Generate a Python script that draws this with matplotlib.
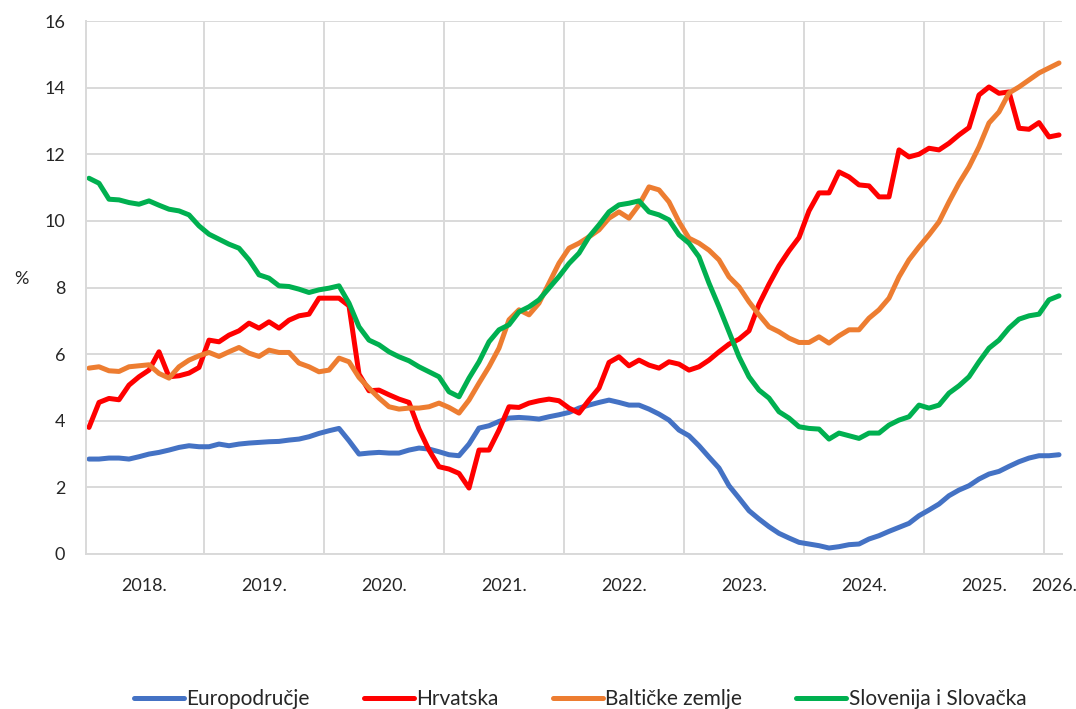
import numpy as np
import matplotlib
matplotlib.use("Agg")
import matplotlib.pyplot as plt

plt.rcParams['font.family'] = ['Lato', 'DejaVu Sans']

# monthly series, Jan 2018 - Feb 2026 (%)
euro_area = [2.85, 2.85, 2.88, 2.88, 2.85, 2.92, 3.0, 3.05, 3.12, 3.2, 3.25, 3.22,
             3.22, 3.3, 3.25, 3.3, 3.33, 3.35, 3.37, 3.38, 3.42, 3.45, 3.52, 3.62,
             3.7, 3.77, 3.4, 3.0, 3.03, 3.05, 3.03, 3.03, 3.12, 3.18, 3.15, 3.07,
             2.98, 2.95, 3.3, 3.78, 3.85, 3.98, 4.08, 4.1, 4.08, 4.05, 4.12, 4.18,
             4.25, 4.38, 4.47, 4.55, 4.62, 4.55, 4.47, 4.47, 4.35, 4.2, 4.02, 3.72,
             3.55, 3.25, 2.91, 2.58, 2.05, 1.68, 1.3, 1.05, 0.82, 0.62, 0.48, 0.35,
             0.3, 0.25, 0.18, 0.22, 0.28, 0.3, 0.45, 0.55, 0.68, 0.8, 0.92, 1.15,
             1.32, 1.5, 1.75, 1.92, 2.05, 2.25, 2.4, 2.48, 2.63, 2.77, 2.88, 2.95,
             2.95, 2.98]
croatia = [3.8, 4.55, 4.67, 4.63, 5.07, 5.32, 5.52, 6.07, 5.32, 5.35, 5.43, 5.6,
           6.42, 6.37, 6.57, 6.7, 6.93, 6.78, 6.97, 6.78, 7.02, 7.15, 7.2, 7.68,
           7.68, 7.68, 7.45, 5.4, 4.9, 4.92, 4.78, 4.65, 4.55, 3.75, 3.12, 2.62,
           2.55, 2.42, 1.98, 3.12, 3.12, 3.72, 4.42, 4.4, 4.53, 4.6, 4.65, 4.6,
           4.38, 4.23, 4.62, 4.98, 5.75, 5.92, 5.65, 5.82, 5.67, 5.58, 5.77, 5.7,
           5.52, 5.62, 5.82, 6.07, 6.3, 6.45, 6.7, 7.5, 8.1, 8.65, 9.1, 9.5,
           10.3, 10.84, 10.84, 11.47, 11.32, 11.08, 11.05, 10.72, 10.72, 12.13, 11.92, 12.0,
           12.18, 12.13, 12.33, 12.58, 12.8, 13.78, 14.02, 13.83, 13.87, 12.78, 12.75, 12.95,
           12.52, 12.58]
baltics = [5.58, 5.62, 5.5, 5.48, 5.62, 5.65, 5.68, 5.42, 5.28, 5.62, 5.82, 5.95,
           6.05, 5.93, 6.07, 6.2, 6.03, 5.93, 6.12, 6.05, 6.05, 5.73, 5.62, 5.47,
           5.52, 5.88, 5.77, 5.3, 4.98, 4.68, 4.42, 4.35, 4.38, 4.38, 4.42, 4.53,
           4.4, 4.23, 4.62, 5.13, 5.62, 6.18, 7.03, 7.33, 7.18, 7.53, 8.13, 8.73,
           9.18, 9.33, 9.52, 9.73, 10.08, 10.27, 10.08, 10.48, 11.02, 10.93, 10.57, 9.97,
           9.48, 9.33, 9.12, 8.83, 8.32, 8.02, 7.57, 7.18, 6.82, 6.67, 6.48, 6.35,
           6.35, 6.52, 6.33, 6.55, 6.73, 6.73, 7.08, 7.33, 7.68, 8.32, 8.83, 9.22,
           9.58, 9.97, 10.57, 11.13, 11.62, 12.22, 12.94, 13.27, 13.84, 14.02, 14.23, 14.44,
           14.59, 14.74]
slo_svk = [11.28, 11.13, 10.65, 10.63, 10.55, 10.5, 10.6, 10.47, 10.35, 10.3, 10.18, 9.85,
           9.6, 9.45, 9.3, 9.18, 8.83, 8.38, 8.28, 8.05, 8.03, 7.95, 7.85, 7.93,
           7.98, 8.05, 7.53, 6.82, 6.42, 6.28, 6.07, 5.92, 5.8, 5.62, 5.47, 5.32,
           4.87, 4.72, 5.28, 5.77, 6.37, 6.73, 6.88, 7.27, 7.42, 7.63, 7.98, 8.33,
           8.72, 9.03, 9.52, 9.88, 10.27, 10.48, 10.53, 10.6, 10.27, 10.18, 10.03, 9.58,
           9.33, 8.92, 8.13, 7.42, 6.67, 5.92, 5.32, 4.92, 4.68, 4.27, 4.08, 3.82,
           3.77, 3.75, 3.45, 3.63, 3.55, 3.47, 3.63, 3.63, 3.87, 4.02, 4.12, 4.47,
           4.38, 4.47, 4.83, 5.05, 5.32, 5.77, 6.18, 6.42, 6.78, 7.05, 7.15, 7.2,
           7.63, 7.75]

series_names = ['Europodručje', 'Hrvatska', 'Baltičke zemlje', 'Slovenija i Slovačka']
series_colors = ['#4472C4', '#FF0000', '#ED7D31', '#00B050']
year_labels = ['2018.', '2019.', '2020.', '2021.', '2022.', '2023.', '2024.', '2025.', '2026.']

months = np.arange(len(euro_area))
text_col = '#262626'
grid_col = '#D9D9D9'

fig = plt.figure(figsize=(10.76, 7.09), dpi=100)
ax = fig.add_axes([86/1076, 1 - 554/709, 976/1076, 533/709])

for vals, name, col in zip([euro_area, croatia, baltics, slo_svk], series_names, series_colors):
    ax.plot(months, vals, color=col, lw=3.6, label=name, solid_capstyle='round', solid_joinstyle='round')

ax.set_xlim(-0.3, len(months) - 0.7)
ax.set_ylim(0, 16)
ax.set_yticks(np.arange(0, 17, 2))

# year boundaries as gridlines, year names centred between them
ax.set_xticks(np.arange(11.5, len(months), 12))
ax.set_xticks([5.5 + 12 * k for k in range(8)] + [96.5], minor=True)
ax.set_xticklabels([])
ax.set_xticklabels(year_labels, minor=True)
ax.tick_params(axis='x', which='both', length=0, pad=17, labelsize=13, labelcolor=text_col)
ax.tick_params(axis='y', length=0, pad=15, labelsize=13, labelcolor=text_col)

ax.grid(True, which='major', color=grid_col, lw=1.4)
ax.set_axisbelow(True)
for s in ['top', 'right']:
    ax.spines[s].set_visible(False)
for s in ['left', 'bottom']:
    ax.spines[s].set_color(grid_col)
    ax.spines[s].set_linewidth(1.4)

ax.set_ylabel('%', rotation=0, fontsize=13, color=text_col)
ax.yaxis.set_label_coords(-0.066, 0.5)

fig.legend(loc='center', bbox_to_anchor=(580/1076, 10/709), ncol=4, frameon=False,
           fontsize=15, handlelength=2.4, handletextpad=0.12, columnspacing=2.6,
           labelcolor=text_col)

fig.savefig('out.png', dpi=100)
